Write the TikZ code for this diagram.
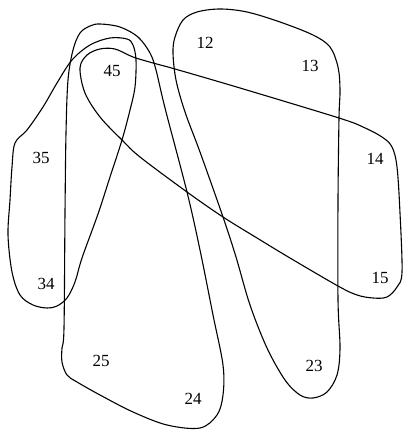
\documentclass[tikz,border=0pt]{standalone}
\usepackage{fontspec}
\setmainfont{Liberation Serif}
\begin{document}
\begin{tikzpicture}[x=1pt,y=-1pt,
  setcurve/.style={draw=black,line width=1.1pt,line join=round},
  lbl/.style={inner sep=0pt,font=\fontsize{17}{19}\selectfont}]
\useasboundingbox (0,0) rectangle (403,430);
% curve A : 12, 13, 23
\draw[setcurve] plot[smooth cycle,tension=0.55] coordinates {
 (173,53) (176,80) (185,112) (200,152) (223,217) (236,257) (250,305) (267,348)
 (285,380) (300,395) (313,398) (327,392) (337,375) (340,348) (338,300) (338,200)
 (339,118) (340,90) (338,67) (330,47) (313,35) (280,22) (247,12) (220,9) (197,12)
 (183,20) (175,37)};
% curve B : 45, 14, 15
\draw[setcurve] plot[smooth cycle,tension=0.55] coordinates {
 (80,68) (87,55) (100,49) (115,49) (133,57) (153,63) (175,69) (240,88) (339,118)
 (363,127) (382,137) (392,147) (397,167) (400,213) (402,272) (397,287) (387,297)
 (373,298) (357,295) (338,286) (290,258) (257,238) (223,217) (187,192) (140,157)
 (122,140) (100,117) (85,93)};
% curve C : 35, 34, 45
\draw[setcurve] plot[smooth cycle,tension=0.55] coordinates {
 (15,143) (27,130) (43,107) (57,83) (72,60) (90,45) (110,38) (127,39) (133,45)
 (136,60) (135,87) (130,110) (122,140) (110,177) (98,214) (82,258) (75,282)
 (67,298) (57,306) (47,308) (33,305) (20,295) (12,272) (8,235) (10,200) (12,167)};
% curve D : 45, 25, 24
\draw[setcurve] plot[smooth cycle,tension=0.55] coordinates {
 (65,213) (66,133) (68,80) (73,50) (80,33) (90,26) (100,24) (120,27) (138,37)
 (150,53) (156,70) (165,108) (187,192) (200,250) (213,315) (223,365)
 (223,395) (217,415) (200,428) (167,425) (133,412) (100,395) (77,382)
 (67,375) (62,362) (62,348) (64,328)};
\node[lbl] (l12) at (205,43) {12};
\node[lbl] (l13) at (310,66) {13};
\node[lbl] (l14) at (375,159) {14};
\node[lbl] (l15) at (380,278) {15};
\node[lbl] (l23) at (314,366) {23};
\node[lbl] (l24) at (193,399) {24};
\node[lbl] (l25) at (101,361) {25};
\node[lbl] (l34) at (46,284) {34};
\node[lbl] (l35) at (41,158) {35};
\node[lbl] (l45) at (112,71) {45};
\end{tikzpicture}
\end{document}
